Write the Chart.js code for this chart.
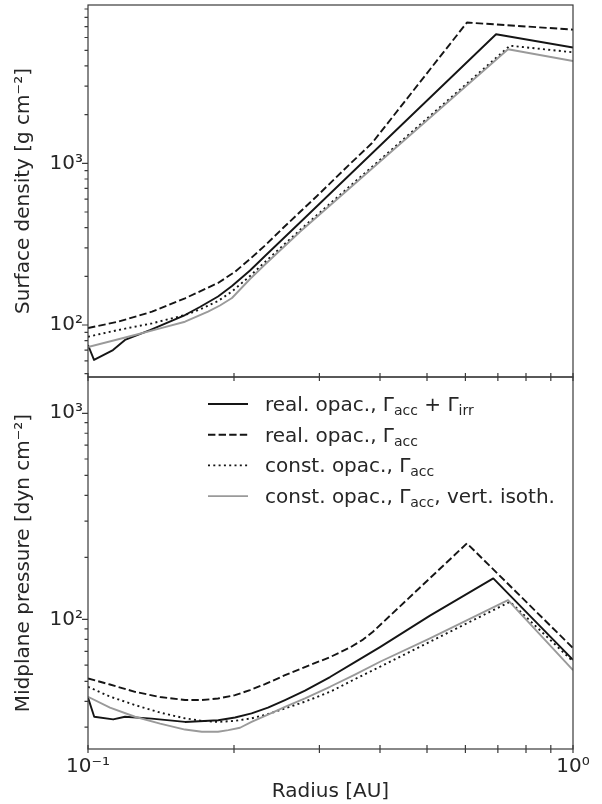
<!DOCTYPE html>
<html>
<head>
<meta charset="utf-8">
<script src="https://cdn.jsdelivr.net/npm/chart.js@4.4.1/dist/chart.umd.min.js"></script>
<style>
  html, body { margin: 0; padding: 0; background: #fff; }
  #wrap { position: relative; width: 602px; height: 804px; background: #fff; }
  canvas { position: absolute; left: 0; }
  #sigmaChart { top: 0; }
  #pressChart { top: 372px; }
</style>
</head>
<body>
<div id="wrap">
  <canvas id="sigmaChart" width="602" height="382"></canvas>
  <canvas id="pressChart" width="602" height="432"></canvas>
</div>
<script>
// ---- surface density (top panel), radius in AU, values in g cm^-2
const sigmaIrrR = [0.1, 0.1029, 0.1126, 0.1192, 0.1342, 0.1585, 0.1701, 0.1854, 0.1981, 0.2158, 0.2317, 0.2736, 0.694, 1.0];
const sigmaIrr = [75.2, 60.8, 70.0, 80.8, 93.1, 115.3, 129.2, 150.1, 174.3, 217.3, 267.1, 430.4, 6279, 5202];

const sigmaAccR = [0.1, 0.1153, 0.1355, 0.1585, 0.1854, 0.201, 0.2158, 0.2317, 0.2524, 0.2966, 0.3468, 0.3852, 0.6044, 1.0];
const sigmaAcc = [95.8, 104.8, 120.9, 146.3, 181.9, 213.6, 255.9, 310.2, 398, 628, 990, 1335, 7427, 6711];

const sigmaConstR = [0.1, 0.1153, 0.1355, 0.1585, 0.1701, 0.1854, 0.1981, 0.2158, 0.2317, 0.2736, 0.7414, 1.0];
const sigmaConst = [84.6, 93.1, 102.4, 115.3, 124.7, 140.7, 161.2, 201.0, 245.2, 386.8, 5338, 4859];

const sigmaIsoR = [0.1, 0.125, 0.1408, 0.1585, 0.1768, 0.1871, 0.1981, 0.2158, 0.2317, 0.2736, 0.7345, 1.0];
const sigmaIso = [73.1, 86.7, 95.4, 104.8, 120.9, 132.0, 146.9, 192.5, 236.6, 377.6, 5072, 4292];

// ---- midplane pressure (bottom panel), values in dyn cm^-2
const pressIrrR = [0.1, 0.103, 0.1127, 0.1192, 0.1353, 0.1585, 0.1856, 0.201, 0.2174, 0.235, 0.2548, 0.2802,
  0.3155, 0.3551, 0.4, 0.5071, 0.6849, 1.0];
const pressIrr = [41.7, 33.7, 32.7, 33.7, 33.0, 31.8, 32.4, 33.4, 35.0, 37.3, 40.6, 45.1,
  52.5, 62.0, 73.4, 104.3, 158.1, 63.6];

const pressAccR = [0.1, 0.111, 0.125, 0.1408, 0.1585, 0.1718, 0.1854, 0.201, 0.2158, 0.2317, 0.2548, 0.2736,
  0.3155, 0.3468, 0.369, 0.3869, 0.6044, 1.0];
const pressAcc = [51.7, 48.3, 44.5, 42.0, 40.6, 40.6, 41.3, 42.9, 45.4, 48.5, 53.6, 57.4,
  65.6, 73.0, 79.8, 87.1, 233.8, 72.6];

const pressConstR = [0.1, 0.111, 0.125, 0.1408, 0.1585, 0.1701, 0.1856, 0.201, 0.2174, 0.235, 0.2548, 0.2802,
  0.3155, 0.3551, 0.4, 0.5071, 0.7414, 1.0];
const pressConst = [47.1, 42.2, 38.4, 35.3, 33.1, 32.3, 31.8, 32.2, 33.1, 34.7, 37.0, 39.9,
  44.5, 51.3, 58.9, 77.9, 121.7, 62.5];

const pressIsoR = [0.1, 0.111, 0.125, 0.1408, 0.1585, 0.1717, 0.1854, 0.1947, 0.2058, 0.2174, 0.235, 0.2548,
  0.2802, 0.3155, 0.3551, 0.4, 0.5071, 0.7345, 1.0];
const pressIso = [42.1, 37.3, 33.7, 31.2, 29.2, 28.5, 28.5, 29.0, 29.8, 31.8, 34.5, 37.6,
  41.4, 47.1, 54.0, 62.3, 80.9, 124.1, 56.7];

// ---- axes
const radiusTicks = [0.1, 0.2, 0.3, 0.4, 0.5, 0.6, 0.7, 0.8, 0.9, 1.0];
const sigmaTicks = [50, 60, 70, 80, 90, 100, 200, 300, 400, 500, 600, 700, 800, 900, 1000,
  2000, 3000, 4000, 5000, 6000, 7000, 8000, 9000];
const pressTicks = [30, 40, 50, 60, 70, 80, 90, 100, 200, 300, 400, 500, 600, 700, 800, 900, 1000];

const seriesLabels = [
  'real. opac., Γacc + Γirr',
  'real. opac., Γacc',
  'const. opac., Γacc',
  'const. opac., Γacc, vert. isoth.'
];
// same labels split into normal / subscript pieces for the legend
const legendParts = [
  [['real. opac., Γ', 0], ['acc', 1], [' + Γ', 0], ['irr', 1]],
  [['real. opac., Γ', 0], ['acc', 1]],
  [['const. opac., Γ', 0], ['acc', 1]],
  [['const. opac., Γ', 0], ['acc', 1], [', vert. isoth.', 0]]
];

const FONT = '"DejaVu Sans", sans-serif';
const TEXT = '#262626';
const lineColors = ['#151515', '#151515', '#151515', '#9a9a9a'];
const lineDashes = [[], [7.4, 3.2], [2, 3.3], []];

const SUP = { '-': '⁻', '0': '⁰', '1': '¹', '2': '²', '3': '³', '4': '⁴', '5': '⁵', '6': '⁶', '7': '⁷', '8': '⁸', '9': '⁹' };

function isPow10(v) {
  const e = Math.log10(v);
  return Math.abs(e - Math.round(e)) < 1e-6;
}

function powLabel(v) {
  if (!isPow10(v)) return '';
  return '10' + String(Math.round(Math.log10(v))).split('').map(c => SUP[c]).join('');
}

function points(rs, vs) {
  return rs.map((r, i) => ({ x: r, y: vs[i] }));
}

function makeDatasets(pairs) {
  return pairs.map(([rs, vs], i) => ({
    label: seriesLabels[i],
    data: points(rs, vs),
    borderColor: lineColors[i],
    borderWidth: 1.9,
    borderDash: lineDashes[i],
    borderCapStyle: 'butt',
    borderJoinStyle: 'round',
    pointRadius: 0,
    tension: 0,
    order: 4 - i
  }));
}

// frame around the panel + tick marks (matplotlib look)
const frameAndTicks = {
  id: 'frameAndTicks',
  afterDatasetsDraw(chart) {
    const { ctx, chartArea: a, scales } = chart;
    ctx.save();
    ctx.strokeStyle = '#3a3a3a';
    ctx.lineWidth = 1.2;
    ctx.strokeRect(a.left, a.top, a.right - a.left, a.bottom - a.top);
    ctx.beginPath();
    scales.y.ticks.forEach(t => {
      const py = scales.y.getPixelForValue(t.value);
      const len = isPow10(t.value) ? 6 : 3.5;
      ctx.moveTo(a.left - len, py);
      ctx.lineTo(a.left, py);
    });
    scales.x.ticks.forEach(t => {
      const px = scales.x.getPixelForValue(t.value);
      ctx.moveTo(px, a.bottom - 4);
      ctx.lineTo(px, a.bottom + 4);
    });
    ctx.stroke();
    ctx.restore();
  }
};

// legend with subscripts
const mathLegend = {
  id: 'mathLegend',
  afterDatasetsDraw(chart) {
    const { ctx, chartArea: a } = chart;
    ctx.save();
    chart.data.datasets.forEach((ds, i) => {
      const y = a.top + 27 + i * 30.7;
      ctx.strokeStyle = ds.borderColor;
      ctx.lineWidth = ds.borderWidth;
      ctx.setLineDash(ds.borderDash);
      ctx.beginPath();
      ctx.moveTo(a.left + 120, y);
      ctx.lineTo(a.left + 160, y);
      ctx.stroke();
      ctx.setLineDash([]);
      ctx.fillStyle = TEXT;
      ctx.textBaseline = 'alphabetic';
      let x = a.left + 177;
      const base = y + 7;
      legendParts[i].forEach(([txt, sub]) => {
        ctx.font = (sub ? '14px ' : '20px ') + FONT;
        ctx.fillText(txt, x, sub ? base + 4 : base);
        x += ctx.measureText(txt).width;
      });
    });
    ctx.restore();
  }
};

function setTicks(list) {
  return scale => {
    scale.ticks = list.filter(v => v >= scale.min - 1e-9 && v <= scale.max + 1e-9).map(v => ({ value: v }));
  };
}

function yAxis(min, max, list, title) {
  return {
    type: 'logarithmic',
    min: min,
    max: max,
    afterBuildTicks: setTicks(list),
    afterFit: s => { s.width = 88; s.paddingTop = 0; s.paddingBottom = 0; },
    grid: { display: false, drawTicks: false },
    border: { display: false },
    ticks: {
      autoSkip: false,
      padding: 5,
      color: TEXT,
      font: { family: FONT, size: 20 },
      callback: v => powLabel(v)
    },
    title: {
      display: true,
      text: title,
      color: TEXT,
      font: { family: FONT, size: 20 },
      padding: { top: 12, bottom: 4 }
    }
  };
}

function xAxis(showLabels, height) {
  return {
    type: 'logarithmic',
    min: 0.1,
    max: 1.0,
    afterBuildTicks: setTicks(radiusTicks),
    afterFit: s => { s.height = height; s.paddingLeft = 0; s.paddingRight = 0; },
    grid: { display: false, drawTicks: false },
    border: { display: false },
    ticks: {
      display: showLabels,
      autoSkip: false,
      maxRotation: 0,
      padding: 6,
      color: TEXT,
      font: { family: FONT, size: 20 },
      callback: v => powLabel(v)
    },
    title: {
      display: showLabels,
      text: 'Radius [AU]',
      color: TEXT,
      font: { family: FONT, size: 20 },
      padding: { top: 4, bottom: 0 }
    }
  };
}

const commonOptions = {
  responsive: false,
  animation: false,
  devicePixelRatio: 1,
  plugins: { legend: { display: false }, tooltip: { enabled: false } }
};

new Chart(document.getElementById('sigmaChart').getContext('2d'), {
  type: 'line',
  data: {
    datasets: makeDatasets([
      [sigmaIrrR, sigmaIrr], [sigmaAccR, sigmaAcc], [sigmaConstR, sigmaConst], [sigmaIsoR, sigmaIso]
    ])
  },
  options: Object.assign({}, commonOptions, {
    layout: { padding: { top: 5, right: 29, left: 0, bottom: 0 } },
    scales: {
      x: xAxis(false, 5),
      y: yAxis(47.7, 9530, sigmaTicks, 'Surface density [g cm⁻²]')
    }
  }),
  plugins: [frameAndTicks]
});

new Chart(document.getElementById('pressChart').getContext('2d'), {
  type: 'line',
  data: {
    datasets: makeDatasets([
      [pressIrrR, pressIrr], [pressAccR, pressAcc], [pressConstR, pressConst], [pressIsoR, pressIso]
    ])
  },
  options: Object.assign({}, commonOptions, {
    layout: { padding: { top: 5, right: 29, left: 0, bottom: 0 } },
    scales: {
      x: xAxis(true, 55),
      y: yAxis(23.5, 1500, pressTicks, 'Midplane pressure [dyn cm⁻²]')
    }
  }),
  plugins: [frameAndTicks, mathLegend]
});
</script>
</body>
</html>
